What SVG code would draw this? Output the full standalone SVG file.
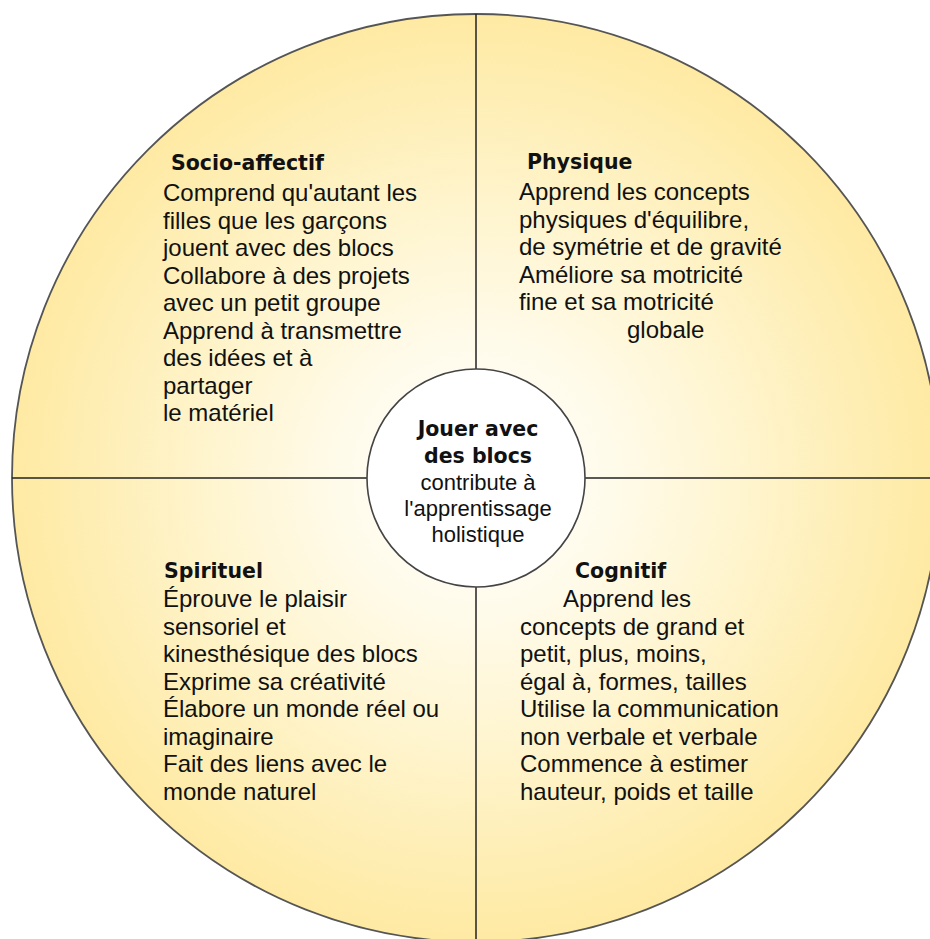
<svg xmlns="http://www.w3.org/2000/svg" width="930" height="939" viewBox="0 0 930 939">
  <defs>
    <radialGradient id="bg" cx="476" cy="478" r="464" gradientUnits="userSpaceOnUse">
      <stop offset="0" stop-color="#FFFFFF"/>
      <stop offset="0.3" stop-color="#FFFBEA"/>
      <stop offset="1" stop-color="#FEEAA3"/>
    </radialGradient>
  </defs>
  <style>
    .hd { font-family: "DejaVu Sans", Verdana, sans-serif; font-weight: bold; font-size: 20.5px; fill: #111; }
    .tx { font-family: "Liberation Sans", Arial, sans-serif; font-size: 24px; fill: #111; }
    .ctx { font-family: "Liberation Sans", Arial, sans-serif; font-size: 22px; fill: #111; }
    .ln { stroke: #222; stroke-width: 1.5; fill: none; }
  </style>
  <rect width="930" height="939" fill="#FFFFFF"/>
  <g id="outer">
    <circle cx="476" cy="478" r="464" fill="url(#bg)" stroke="#555" stroke-width="1.8"/>
  </g>
  <g id="connectors">
    <line class="ln" x1="476" y1="14" x2="476" y2="369"/>
    <line class="ln" x1="476" y1="587" x2="476" y2="942"/>
    <line class="ln" x1="12" y1="478" x2="367" y2="478"/>
    <line class="ln" x1="585" y1="478" x2="940" y2="478"/>
  </g>
  <g id="socio-affectif">
    <text class="hd" x="171" y="170">Socio-affectif</text>
    <text class="tx" x="163" y="201">Comprend qu'autant les</text>
    <text class="tx" x="163" y="228.5">filles que les garçons</text>
    <text class="tx" x="163" y="256">jouent avec des blocs</text>
    <text class="tx" x="163" y="283.5">Collabore à des projets</text>
    <text class="tx" x="163" y="311">avec un petit groupe</text>
    <text class="tx" x="163" y="338.5">Apprend à transmettre</text>
    <text class="tx" x="163" y="366">des idées et à</text>
    <text class="tx" x="163" y="393.5">partager</text>
    <text class="tx" x="163" y="421">le matériel</text>
  </g>
  <g id="physique">
    <text class="hd" x="527" y="169">Physique</text>
    <text class="tx" x="519" y="200">Apprend les concepts</text>
    <text class="tx" x="519" y="227.5">physiques d'équilibre,</text>
    <text class="tx" x="519" y="255">de symétrie et de gravité</text>
    <text class="tx" x="519" y="282.5">Améliore sa motricité</text>
    <text class="tx" x="519" y="310">fine et sa motricité</text>
    <text class="tx" x="627" y="337.5">globale</text>
  </g>
  <g id="spirituel">
    <text class="hd" x="164" y="578">Spirituel</text>
    <text class="tx" x="163" y="607">Éprouve le plaisir</text>
    <text class="tx" x="163" y="634.5">sensoriel et</text>
    <text class="tx" x="163" y="662">kinesthésique des blocs</text>
    <text class="tx" x="163" y="689.5">Exprime sa créativité</text>
    <text class="tx" x="163" y="717">Élabore un monde réel ou</text>
    <text class="tx" x="163" y="744.5">imaginaire</text>
    <text class="tx" x="163" y="772">Fait des liens avec le</text>
    <text class="tx" x="163" y="799.5">monde naturel</text>
  </g>
  <g id="cognitif">
    <text class="hd" x="575" y="578">Cognitif</text>
    <text class="tx" x="563" y="607">Apprend les</text>
    <text class="tx" x="520" y="634.5">concepts de grand et</text>
    <text class="tx" x="520" y="662">petit, plus, moins,</text>
    <text class="tx" x="520" y="689.5">égal à, formes, tailles</text>
    <text class="tx" x="520" y="717">Utilise la communication</text>
    <text class="tx" x="520" y="744.5">non verbale et verbale</text>
    <text class="tx" x="520" y="772">Commence à estimer</text>
    <text class="tx" x="520" y="799.5">hauteur, poids et taille</text>
  </g>
  <g id="center">
    <circle cx="476" cy="478" r="109" fill="#FFFFFF" stroke="#444" stroke-width="1.6"/>
    <text class="hd" x="478" y="436" text-anchor="middle">Jouer avec</text>
    <text class="hd" x="478" y="463" text-anchor="middle">des blocs</text>
    <text class="ctx" x="478" y="490" text-anchor="middle">contribute à</text>
    <text class="ctx" x="478" y="516" text-anchor="middle">l'apprentissage</text>
    <text class="ctx" x="478" y="542" text-anchor="middle">holistique</text>
  </g>
</svg>
